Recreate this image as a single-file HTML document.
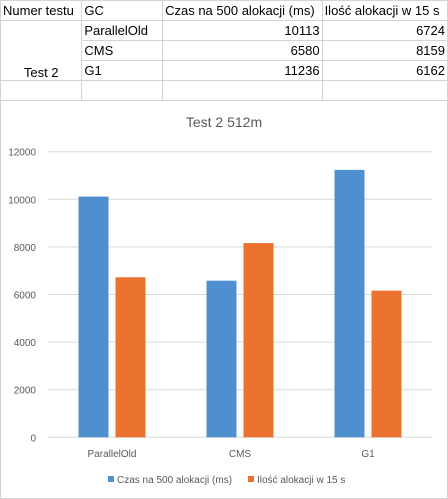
<!DOCTYPE html>
<html><head><meta charset="utf-8"><style>
body{margin:0;width:448px;height:499px;overflow:hidden;background:#fff;font-family:"Liberation Sans",sans-serif;}
table{position:absolute;left:0;top:0;border-collapse:collapse;font-size:13px;}
td{border:1px solid #d4d4d4;height:19px;padding:0 2px;white-space:nowrap;}
</style></head><body>
<table>
<tr><td style="width:77px">Numer testu</td><td style="width:77px">GC</td><td style="width:155px">Czas na 500 alokacji (ms)</td><td style="width:121px">Ilość alokacji w 15 s</td></tr>
<tr><td rowspan="3" style="text-align:center;vertical-align:bottom">Test 2</td><td>ParallelOld</td><td style="text-align:right">10113</td><td style="text-align:right">6724</td></tr>
<tr><td>CMS</td><td style="text-align:right">6580</td><td style="text-align:right">8159</td></tr>
<tr><td>G1</td><td style="text-align:right">11236</td><td style="text-align:right">6162</td></tr>
<tr><td></td><td></td><td></td><td></td></tr>
</table>
<svg id="chart" style="position:absolute;left:0;top:100px" width="448" height="399"></svg>
<script>
const categories=["ParallelOld","CMS","G1"];
const seriesNames=["Czas na 500 alokacji (ms)","Ilość alokacji w 15 s"];
const seriesA=[10113,6580,11236];
const seriesB=[6724,8159,6162];
const ticks=[0,2000,4000,6000,8000,10000,12000];
const colors=["#4e8fcf","#ea712e"];
const svg=document.getElementById('chart');
const NS="http://www.w3.org/2000/svg";
const oy=100;
function y(v){return 437.3-oy-v*(437.3-151.7)/12000;}
const x0=48,x1=432,cw=(x1-x0)/categories.length;
function mk(t,a,name){const e=document.createElementNS(NS,t);for(const k in a)e.setAttribute(k,a[k]);


svg.appendChild(e);return e;}
mk('rect',{x:0.5,y:0.5,width:447,height:398,fill:'none',stroke:'#d4d4d4'},'chart-border');
const t=mk('text',{x:224,y:27,'text-anchor':'middle','font-size':14,fill:'#595959'},'chart-title');t.textContent="Test 2 512m";
ticks.forEach(v=>{
mk('line',{x1:x0,x2:x1,y1:y(v),y2:y(v),stroke:'#d9d9d9'},'gridline');
const l=mk('text',{x:36,y:y(v)+4,'text-anchor':'end','font-size':10,fill:'#595959'},'y-tick-label');l.textContent=v;
});
const bw=30,gap=7;
categories.forEach((c,i)=>{
const cx=x0+cw*(i+0.5);
[seriesA,seriesB].forEach((s,j)=>{
const bx=j==0?cx-gap/2-bw:cx+gap/2;
mk('rect',{x:bx,y:y(s[i]),width:bw,height:y(0)-y(s[i]),fill:colors[j]},j==0?'bar-czas':'bar-ilosc');
});
const l=mk('text',{x:cx,y:357,'text-anchor':'middle','font-size':10,fill:'#595959'},'x-tick-label');l.textContent=c;
});
const lx=[108,248];
seriesNames.forEach((n,j)=>{
mk('rect',{x:lx[j],y:376,width:6,height:6,fill:colors[j]},'legend-swatch');
const l=mk('text',{x:lx[j]+9,y:383,'font-size':10,fill:'#595959'},'legend-entry');l.textContent=n;
});
</script>
</body></html>
